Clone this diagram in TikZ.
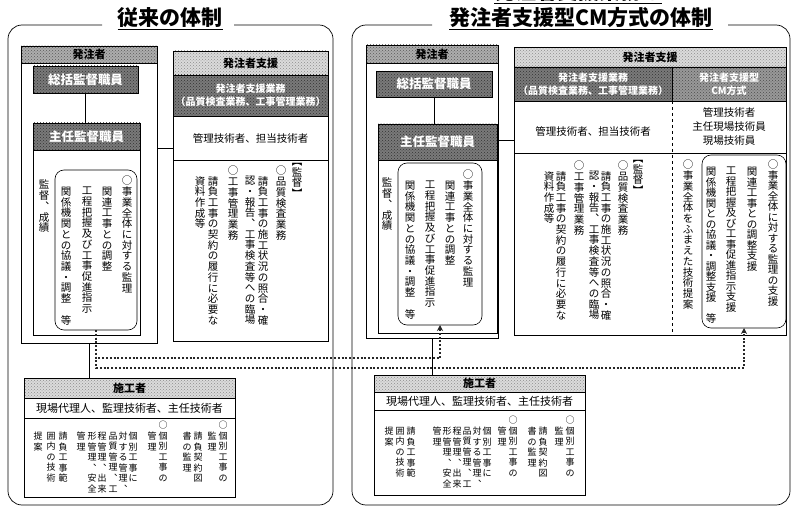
\documentclass[tikz,border=0pt]{standalone}
\usepackage{fontspec}
\setmainfont{Noto Sans CJK JP}
\usetikzlibrary{patterns,arrows.meta,calc}
\ExplSyntaxOn
\cs_new_protected:Npn \vt_char:n #1
  {
    \str_case:nnF {#1}
      {
        {、}{\hbox_to_wd:nn{1em}{\hss ︑\hss}}
        {【}{\hbox_to_wd:nn{1em}{\hss ︻\hss}}
        {】}{\hbox_to_wd:nn{1em}{\hss ︼\hss}}
      }
      {\hbox_to_wd:nn{1em}{\hss#1\hss}}
  }
\NewDocumentCommand\vt{O{1.02}m}
  {
    \vbox:n
      {
        \baselineskip=#1em\relax
        \lineskip=0pt\relax
        \lineskiplimit=-100pt\relax
        \tl_map_function:nN {#2} \vt_char:n
      }
  }
\ExplSyntaxOff
\newcommand\bx[6][]{\node[inner sep=0pt,outer sep=0pt,anchor=north west,minimum width={#5-#3},minimum height={#6-#4},line width=0.6pt,#1] (#2) at (#3,#4) {};}
\newcommand\vcol[4][]{\node[col,#1] (#2) at #3 {\vt{#4}};}
\newcommand\wcol[3]{\node[col,font=\fontsize{9}{11}\selectfont] (#1) at #2 {\vt[1.17]{#3}};}
\tikzset{
  col/.style={anchor=north,inner sep=0pt,font=\fontsize{10.5}{12}\selectfont},
  hlight/.style={draw,preaction={fill=black!14},pattern=crosshatch dots,pattern color=black!45},
  hmed/.style={draw,preaction={fill=black!32},pattern=crosshatch dots,pattern color=black!65},
  hdark/.style={draw,preaction={fill=black!52},pattern=crosshatch dots,pattern color=black!80},
  hdark2/.style={draw,preaction={fill=black!40},pattern=crosshatch dots,pattern color=black!70},
  frame/.style={draw,line width=0.7pt,rounded corners=14pt},
  ttl/.style={inner sep=0pt,font=\fontsize{21}{24}\selectfont\bfseries},
  hd/.style={inner sep=0pt,font=\fontsize{11}{13}\selectfont\bfseries},
  hk/.style={inner sep=0pt,text=white,font=\fontsize{12.5}{14}\selectfont\bfseries},
  tx/.style={inner sep=0pt,font=\fontsize{10.5}{14}\selectfont,align=center},
  tx2/.style={inner sep=0pt,text=white,font=\fontsize{10}{13}\selectfont\bfseries,align=center},
  dotc/.style={line width=2.2pt,dash pattern=on 2pt off 1.8pt,black!85,-{Stealth[length=6pt,width=6pt]}},
}
\begin{document}
\begin{tikzpicture}[x=1pt,y=-1pt]
\fill[white] (0,0) rectangle (793,508);
\useasboundingbox (0,0) rectangle (793,508);

% ---------- titles and frames ----------
\node[ttl] (tL) at (170,19) {\underline{従来の体制}};
\node[ttl] (tR0) at (578,-7) {\underline{発注者支援業務と}};
\node[ttl] (tR) at (581,19) {\underline{発注者支援型CM方式の体制}};
\coordinate (fL1) at (102,25);
\coordinate (fL2) at (234,25);
\coordinate (fR1) at (432,25);
\coordinate (fR2) at (728,25);
\draw[frame] (fL1) -- (8,25) -- (8,505) -- (333,505) -- (333,25) -- (fL2);
\draw[frame] (fR1) -- (352,25) -- (352,505) -- (790,505) -- (790,25) -- (fR2);

% ---------- left: 発注者 ----------
\bx[draw]{oL}{21}{46}{157}{343}
\bx[hmed]{oLh}{21}{46}{157}{63}
\node[hd] (oLt) at (oLh) {発注者};
\bx[hdark]{sL}{33}{66}{138}{93}
\node[hk] (sLt) at (sL) {総括監督職員};
\bx[draw]{cL}{33}{123}{140}{335}
\bx[hdark]{cLh}{33}{123}{140}{150}
\node[hk] (cLt) at (cLh) {主任監督職員};
\draw[line width=0.6pt] (sL.south) -- (sL.south |- cLh.north);
\bx[draw,rounded corners=9pt]{rL}{55}{170}{137}{330}
\vcol{lk}{(44,180)}{監督、成績}
\vcol{l1}{(127,176)}{○事業全体に対する監理}
\vcol{l2}{(107,187)}{関連工事との調整}
\vcol{l3}{(87,187)}{工程把握及び工事促進指示}
\vcol{l4}{(66,187)}{関係機関との協議・調整　等}

% ---------- left: 発注者支援 ----------
\bx[draw]{aL}{173}{51}{328}{341}
\bx[hlight]{aLh}{173}{51}{328}{75}
\node[hd] (aLht) at (aLh) {発注者支援};
\bx[hdark]{aLd}{173}{75}{328}{116}
\node[tx2] (aLdt) at (aLd) {発注者支援業務\\（品質検査業務、工事管理業務）};
\bx[draw]{aLm}{173}{116}{328}{160}
\node[tx] (aLmt) at (aLm) {管理技術者、担当技術者};
\coordinate (jL) at (165,148);
\draw[line width=0.6pt] (oL.east |- jL) -- (aL.west |- jL);
\vcol{a1}{(297,163)}{【監督】}
\vcol{a2}{(281,166)}{○品質検査業務}
\vcol{a3}{(263,176)}{請負工事の施工状況の照合・確}
\vcol{a4}{(250,176)}{認・報告、工事検査等への臨場}
\vcol{a5}{(233,166)}{○工事管理業務}
\vcol{a6}{(213,176)}{請負工事の契約の履行に必要な}
\vcol{a7}{(200,176)}{資料作成等}

% ---------- right: 発注者 ----------
\bx[draw]{oR}{366}{45}{498}{338}
\bx[hmed]{oRh}{366}{45}{498}{63}
\node[hd] (oRt) at (oRh) {発注者};
\bx[hdark]{sR}{376}{71}{492}{97}
\node[hk] (sRt) at (sR) {総括監督職員};
\bx[draw]{cR}{378}{124}{497}{333}
\bx[hdark]{cRh}{378}{124}{497}{160}
\node[hk] (cRt) at (cRh) {主任監督職員};
\draw[line width=0.6pt] (sR.south) -- (sR.south |- cRh.north);
\bx[draw,rounded corners=9pt]{rR}{398}{163}{482}{325}
\vcol{rk}{(387,178)}{監督、成績}
\vcol{r1}{(468,170)}{○事業全体に対する監理}
\vcol{r2}{(450,181)}{関連工事との調整}
\vcol{r3}{(430,181)}{工程把握及び工事促進指示}
\vcol{r4}{(410,181)}{関係機関との協議・調整　等}

% ---------- right: 発注者支援 ----------
\bx[draw]{aR}{514}{47}{786}{335}
\bx[hlight]{aRh}{514}{47}{786}{67}
\node[hd] (aRht) at (aRh) {発注者支援};
\bx[hdark]{aRd}{514}{67}{672}{101}
\node[tx2] (aRdt) at (aRd) {発注者支援業務\\（品質検査業務、工事管理業務）};
\bx[hdark2]{aRc}{672}{67}{786}{101}
\node[tx2] (aRct) at (aRc) {発注者支援型\\CM方式};
\bx[draw]{aRm}{514}{101}{786}{153}
\draw[line width=0.6pt,dashed] (aRc.south west) -- (aRc.south west |- aR.south);
\node[tx] (aRmt) at (593,131) {管理技術者、担当技術者};
\node[tx] (aRmc) at (729,127) {管理技術者\\主任現場技術員\\現場技術員};
\coordinate (jR) at (505,140);
\draw[line width=0.6pt] (oR.east |- jR) -- (aR.west |- jR);
\vcol{b1}{(638,160)}{【監督】}
\vcol{b2}{(623,161)}{○品質検査業務}
\vcol{b3}{(606,171)}{請負工事の施工状況の照合・確}
\vcol{b4}{(594,171)}{認・報告、工事検査等への臨場}
\vcol{b5}{(579,161)}{○工事管理業務}
\vcol{b6}{(561,171)}{請負工事の契約の履行に必要な}
\vcol{b7}{(549,171)}{資料作成等}
\vcol{b8}{(688,160)}{○事業全体をふまえた技術提案}
\bx[draw,rounded corners=9pt]{rA}{702}{155}{786}{328}
\node[col] (b9) at (773,160) {\vt[1.0]{○事業全体に対する監理の支援}};
\node[col] (b10) at (752,167) {\vt[1.0]{関連工事との調整支援}};
\node[col] (b11) at (731,167) {\vt[1.0]{工程把握及び工事促進指示支援}};
\node[col] (b12) at (711,167) {\vt[1.0]{関係機関との協議・調整支援　等}};

% ---------- left: 施工者 ----------
\bx[draw]{wL}{24}{378}{235}{497}
\bx[hlight]{wLh}{24}{378}{235}{398}
\node[hd] (wLht) at (wLh) {施工者};
\bx[draw]{wLm}{24}{398}{235}{418}
\node[tx,font=\fontsize{11}{13}\selectfont] (wLmt) at (wLm) {現場代理人、監理技術者、主任技術者};
\wcol{w1}{(223,421)}{○個別工事の}
\wcol{w2}{(212,432)}{監理}
\wcol{w3}{(198,432)}{請負契約図}
\wcol{w4}{(187,432)}{書の監理}
\wcol{w5}{(163,421)}{○個別工事の}
\wcol{w6}{(152,432)}{管理}
\wcol{w7}{(133,432)}{個別工事に}
\wcol{w8}{(123,432)}{対する管理、}
\wcol{w9}{(113,432)}{品質管理、工}
\wcol{w10}{(102,432)}{程管理、出来}
\wcol{w11}{(92,432)}{形管理、安全}
\wcol{w12}{(81,432)}{管理}
\wcol{w13}{(63,432)}{請負工事範}
\wcol{w14}{(51,432)}{囲内の技術}
\wcol{w15}{(38,432)}{提案}

% ---------- right: 施工者 ----------
\bx[draw]{wR}{374}{375}{585}{495}
\bx[hlight]{wRh}{374}{375}{585}{392}
\node[hd] (wRht) at (wRh) {施工者};
\bx[draw]{wRm}{374}{392}{585}{410}
\node[tx,font=\fontsize{11}{13}\selectfont] (wRmt) at (wRm) {現場代理人、監理技術者、主任技術者};
\wcol{v1}{(570,416)}{○個別工事の}
\wcol{v2}{(559,427)}{監理}
\wcol{v3}{(543,427)}{請負契約図}
\wcol{v4}{(532,427)}{書の監理}
\wcol{v5}{(513,416)}{○個別工事の}
\wcol{v6}{(502,427)}{管理}
\wcol{v7}{(487,427)}{個別工事に}
\wcol{v8}{(477,427)}{対する管理、}
\wcol{v9}{(467,427)}{品質管理、工}
\wcol{v10}{(457,427)}{程管理、出来}
\wcol{v11}{(447,427)}{形管理、安全}
\wcol{v12}{(437,427)}{管理}
\wcol{v13}{(411,427)}{請負工事範}
\wcol{v14}{(400,427)}{囲内の技術}
\wcol{v15}{(389,427)}{提案}

% ---------- connectors ----------
\draw[line width=0.6pt] (oL.south) -- (oL.south |- wL.north);
\draw[line width=0.6pt] (oR.south) -- (oR.south |- wR.north);
\draw[dotc] (rL.south) -- ++(0,28) -| (rR.south);
\draw[dotc] (rL.south) -- ++(0,38) -| (rA.south);
\end{tikzpicture}
\end{document}
